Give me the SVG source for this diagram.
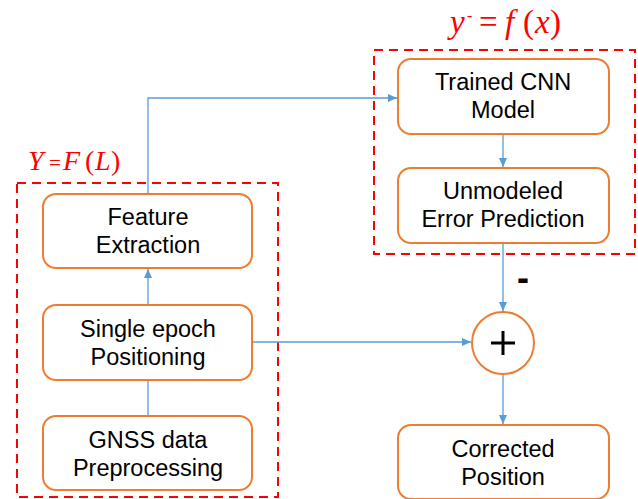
<svg xmlns="http://www.w3.org/2000/svg" width="638" height="499" viewBox="0 0 638 499">
  <defs>
    <marker id="arrow" viewBox="0 0 9 8" refX="9" refY="4" markerWidth="9" markerHeight="8" markerUnits="userSpaceOnUse" orient="auto">
      <path d="M0,0 L9,4 L0,8 Z" fill="#5B9BD5"/>
    </marker>
    <style>
      .box { fill: #FFFFFF; stroke: #ED7D31; stroke-width: 2; }
      .lbl { font-family: "Liberation Sans", Arial, sans-serif; font-size: 23.5px; fill: #000000; text-anchor: middle; }
      .conn { fill: none; stroke: #5B9BD5; stroke-width: 1.3; }
      .group { fill: none; stroke: #FF0000; stroke-width: 2; stroke-dasharray: 9 6; }
      .math { font-family: "Liberation Serif", "Times New Roman", serif; fill: #FF0000; }
      .it { font-style: italic; }
    </style>
  </defs>
  <rect width="638" height="499" fill="#FFFFFF"/>

  <!-- dashed group outlines -->
  <rect class="group" x="17" y="183" width="261" height="314"/>
  <rect class="group" x="374" y="50" width="261" height="204"/>

  <!-- formula labels, one glyph per tspan for spacing -->
  <text class="math" font-size="28" y="170"><tspan class="it" x="28">Y</tspan><tspan x="49" font-size="21">=</tspan><tspan class="it" x="63">F</tspan><tspan x="85">(</tspan><tspan class="it" x="95">L</tspan><tspan x="111">)</tspan></text>
  <text class="math" font-size="33" y="33"><tspan class="it" x="450">y</tspan><tspan x="467" y="21" font-size="16">-</tspan><tspan x="479" y="33">=</tspan><tspan class="it" x="505">f</tspan><tspan x="523">(</tspan><tspan class="it" x="535">x</tspan><tspan x="550">)</tspan></text>

  <!-- connectors -->
  <g id="connectors">
    <path class="conn" d="M148,416 V306" marker-end="url(#arrow)"/>
    <path class="conn" d="M148,305 V269" marker-end="url(#arrow)"/>
    <path class="conn" d="M148,194 V98 H397" marker-end="url(#arrow)"/>
    <path class="conn" d="M503,134 V167" marker-end="url(#arrow)"/>
    <path class="conn" d="M503,243 V311" marker-end="url(#arrow)"/>
    <path class="conn" d="M252,342 H471" marker-end="url(#arrow)"/>
    <path class="conn" d="M503,374 V424" marker-end="url(#arrow)"/>
  </g>

  <g id="gnss-preprocessing">
    <rect class="box" x="43" y="416" width="209" height="74" rx="13"/>
    <text class="lbl" x="148" y="448">GNSS data</text>
    <text class="lbl" x="148" y="476">Preprocessing</text>
  </g>

  <g id="single-epoch">
    <rect class="box" x="43" y="305" width="209" height="75" rx="13"/>
    <text class="lbl" x="148" y="337">Single epoch</text>
    <text class="lbl" x="148" y="365">Positioning</text>
  </g>

  <g id="feature-extraction">
    <rect class="box" x="43" y="194" width="209" height="74" rx="13"/>
    <text class="lbl" x="148" y="225">Feature</text>
    <text class="lbl" x="148" y="253">Extraction</text>
  </g>

  <g id="trained-cnn">
    <rect class="box" x="398" y="59" width="211" height="75" rx="13"/>
    <text class="lbl" x="503" y="90">Trained CNN</text>
    <text class="lbl" x="503" y="118">Model</text>
  </g>

  <g id="error-prediction">
    <rect class="box" x="398" y="168" width="211" height="75" rx="13"/>
    <text class="lbl" x="503" y="199">Unmodeled</text>
    <text class="lbl" x="503" y="227">Error Prediction</text>
  </g>

  <g id="sum">
    <circle cx="503" cy="343" r="31" fill="#FFFFFF" stroke="#ED7D31" stroke-width="2"/>
    <path d="M491,343 H515 M503,331 V355" stroke="#000000" stroke-width="3"/>
  </g>

  <text x="523" y="290" font-family="Liberation Sans, Arial, sans-serif" font-size="36" font-weight="bold" text-anchor="middle" fill="#000000">-</text>

  <g id="corrected-position">
    <rect class="box" x="398" y="425" width="211" height="74" rx="13"/>
    <text class="lbl" x="503" y="457">Corrected</text>
    <text class="lbl" x="503" y="485">Position</text>
  </g>
</svg>
